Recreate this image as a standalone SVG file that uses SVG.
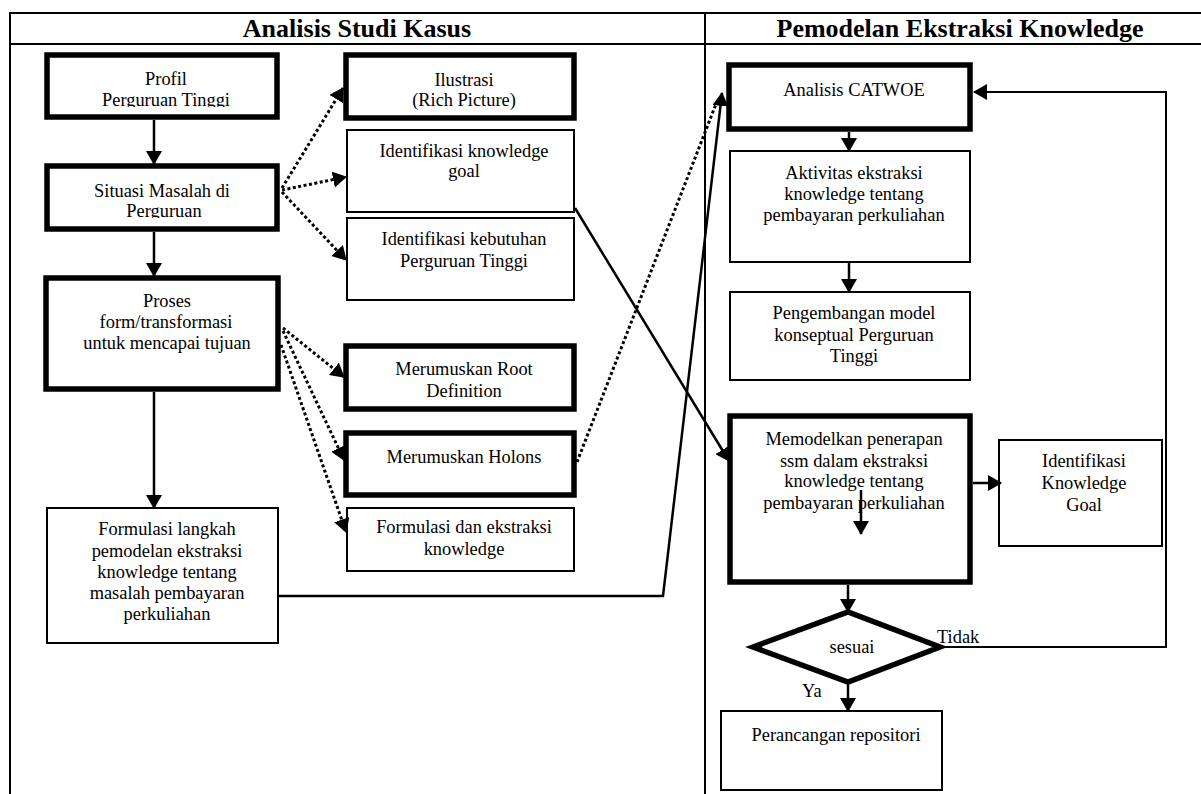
<svg xmlns="http://www.w3.org/2000/svg" width="1201" height="794" viewBox="0 0 1201 794">
  <style>
    .frame { stroke: #000; stroke-width: 2; fill: none; }
    .head { font-family: "Liberation Serif", "Times New Roman", serif; font-weight: bold; font-size: 26px; fill: #000; text-anchor: middle; }
    .t { font-family: "Liberation Serif", "Times New Roman", serif; font-size: 18.4px; fill: #000; text-anchor: middle; }
    .lbl { font-family: "Liberation Serif", "Times New Roman", serif; font-size: 18.4px; fill: #000; }
    .thick { fill: #fff; stroke: #000; stroke-width: 5.5; }
    .thin { fill: #fff; stroke: #000; stroke-width: 2; }
    .solid { fill: none; stroke: #000; stroke-width: 2.5; }
    .dot { fill: none; stroke: #000; stroke-width: 3; stroke-dasharray: 3 2.5; }
    .loop { fill: none; stroke: #000; stroke-width: 2; }
  </style>
  <defs>
    <marker id="arrow" markerUnits="userSpaceOnUse" viewBox="0 0 14 16" markerWidth="14" markerHeight="16" refX="13" refY="8" orient="auto">
      <path d="M0,0 L14,8 L0,16 z" fill="#000"/>
    </marker>
    <clipPath id="clipProfil"><rect x="50" y="58" width="224" height="49"/></clipPath>
    <clipPath id="clipSituasi"><rect x="50" y="169" width="224" height="49"/></clipPath>
  </defs>

  <rect x="0" y="0" width="1201" height="794" fill="#fff"/>

  <!-- table frame with two swimlanes -->
  <g id="frame">
    <line class="frame" x1="10" y1="13" x2="1201" y2="13"/>
    <line class="frame" x1="10" y1="44" x2="1201" y2="44"/>
    <line class="frame" x1="10" y1="12" x2="10" y2="794"/>
    <line class="frame" x1="705" y1="12" x2="705" y2="794"/>
    <text class="head" x="357" y="37">Analisis Studi Kasus</text>
    <text class="head" x="960" y="37">Pemodelan Ekstraksi Knowledge</text>
  </g>

  <!-- left column -->
  <g id="profil">
    <rect class="thick" x="47" y="55" width="230" height="62"/>
    <g clip-path="url(#clipProfil)">
      <text class="t" x="166" y="85">Profil</text>
      <text class="t" x="166" y="106">Perguruan Tinggi</text>
    </g>
  </g>
  <g id="situasi">
    <rect class="thick" x="47" y="166" width="230" height="63"/>
    <g clip-path="url(#clipSituasi)">
      <text class="t" x="162" y="197">Situasi Masalah di</text>
      <text class="t" x="164" y="217">Perguruan</text>
    </g>
  </g>
  <g id="proses">
    <rect class="thick" x="46" y="278" width="232" height="111"/>
    <text class="t" x="167" y="307">Proses</text>
    <text class="t" x="166" y="328">form/transformasi</text>
    <text class="t" x="167" y="349">untuk mencapai tujuan</text>
  </g>
  <g id="formulasi-langkah">
    <rect class="thin" x="47" y="508" width="231" height="135"/>
    <text class="t" x="167" y="535">Formulasi langkah</text>
    <text class="t" x="167" y="557">pemodelan ekstraksi</text>
    <text class="t" x="167" y="578">knowledge tentang</text>
    <text class="t" x="167" y="599">masalah pembayaran</text>
    <text class="t" x="167" y="620">perkuliahan</text>
  </g>

  <!-- middle column -->
  <g id="ilustrasi">
    <rect class="thick" x="346" y="55" width="228" height="63"/>
    <text class="t" x="464" y="86">Ilustrasi</text>
    <text class="t" x="464" y="106">(Rich Picture)</text>
  </g>
  <g id="identifikasi-goal">
    <rect class="thin" x="347" y="130" width="227" height="82"/>
    <text class="t" x="464" y="157">Identifikasi knowledge</text>
    <text class="t" x="464" y="177">goal</text>
  </g>
  <g id="identifikasi-kebutuhan">
    <rect class="thin" x="347" y="218" width="227" height="82"/>
    <text class="t" x="464" y="245">Identifikasi kebutuhan</text>
    <text class="t" x="464" y="267">Perguruan Tinggi</text>
  </g>
  <g id="root-definition">
    <rect class="thick" x="346" y="346" width="228" height="63"/>
    <text class="t" x="464" y="375">Merumuskan Root</text>
    <text class="t" x="464" y="397">Definition</text>
  </g>
  <g id="holons">
    <rect class="thick" x="346" y="433" width="228" height="62"/>
    <text class="t" x="464" y="463">Merumuskan Holons</text>
  </g>
  <g id="formulasi-ekstraksi">
    <rect class="thin" x="347" y="508" width="227" height="63"/>
    <text class="t" x="464" y="533">Formulasi dan ekstraksi</text>
    <text class="t" x="464" y="555">knowledge</text>
  </g>

  <!-- right column -->
  <g id="catwoe">
    <rect class="thick" x="729" y="65" width="241" height="64"/>
    <text class="t" x="854" y="96">Analisis CATWOE</text>
  </g>
  <g id="aktivitas">
    <rect class="thin" x="730" y="151" width="240" height="111"/>
    <text class="t" x="854" y="179">Aktivitas ekstraksi</text>
    <text class="t" x="854" y="200">knowledge tentang</text>
    <text class="t" x="854" y="221">pembayaran perkuliahan</text>
  </g>
  <g id="pengembangan">
    <rect class="thin" x="730" y="292" width="240" height="88"/>
    <text class="t" x="854" y="319">Pengembangan model</text>
    <text class="t" x="854" y="341">konseptual Perguruan</text>
    <text class="t" x="854" y="362">Tinggi</text>
  </g>
  <g id="memodelkan">
    <rect class="thick" x="730" y="416" width="240" height="166"/>
    <text class="t" x="854" y="445">Memodelkan penerapan</text>
    <text class="t" x="854" y="467">ssm dalam ekstraksi</text>
    <text class="t" x="854" y="487">knowledge tentang</text>
    <text class="t" x="854" y="509">pembayaran perkuliahan</text>
  </g>
  <g id="identifikasi-knowledge-goal">
    <rect class="thin" x="999" y="440" width="163" height="106"/>
    <text class="t" x="1084" y="467">Identifikasi</text>
    <text class="t" x="1084" y="489">Knowledge</text>
    <text class="t" x="1084" y="511">Goal</text>
  </g>
  <g id="sesuai">
    <polygon class="thick" points="753,647 848,612 940,647 848,682"/>
    <text class="t" x="852" y="653">sesuai</text>
  </g>
  <g id="perancangan">
    <rect class="thin" x="721" y="711" width="221" height="79"/>
    <text class="t" x="836" y="741">Perancangan repositori</text>
  </g>

  <!-- connectors -->
  <g id="connectors">
    <line class="solid" x1="154" y1="120" x2="154" y2="164" marker-end="url(#arrow)"/>
    <line class="solid" x1="154" y1="232" x2="154" y2="276" marker-end="url(#arrow)"/>
    <line class="solid" x1="154" y1="392" x2="154" y2="508" marker-end="url(#arrow)"/>

    <line class="dot" x1="282" y1="188" x2="343" y2="88" marker-end="url(#arrow)"/>
    <line class="dot" x1="282" y1="190" x2="346" y2="177" marker-end="url(#arrow)"/>
    <line class="dot" x1="282" y1="192" x2="346" y2="260" marker-end="url(#arrow)"/>
    <line class="dot" x1="283" y1="328" x2="344" y2="377" marker-end="url(#arrow)"/>
    <line class="dot" x1="283" y1="331" x2="344" y2="460" marker-end="url(#arrow)"/>
    <line class="dot" x1="281" y1="345" x2="346" y2="532" marker-end="url(#arrow)"/>
    <line class="dot" x1="577" y1="462" x2="716" y2="104"/>

    <polyline class="solid" points="278,596 663,596 722,93" marker-end="url(#arrow)"/>
    <line class="solid" x1="575" y1="208" x2="729" y2="461" marker-end="url(#arrow)"/>

    <line class="solid" x1="849" y1="132" x2="849" y2="151" marker-end="url(#arrow)"/>
    <line class="solid" x1="849" y1="262" x2="849" y2="292" marker-end="url(#arrow)"/>
    <line class="solid" x1="861" y1="490" x2="861" y2="534" marker-end="url(#arrow)"/>
    <line class="solid" x1="973" y1="483" x2="1001" y2="483" marker-end="url(#arrow)"/>
    <line class="solid" x1="848" y1="585" x2="848" y2="612" marker-end="url(#arrow)"/>
    <line class="solid" x1="848" y1="683" x2="848" y2="711" marker-end="url(#arrow)"/>

    <polyline class="loop" points="940,647 1166,647 1166,92 974,92" marker-end="url(#arrow)"/>
    <text class="lbl" x="937" y="643">Tidak</text>
    <text class="lbl" x="802" y="697">Ya</text>
  </g>
</svg>
